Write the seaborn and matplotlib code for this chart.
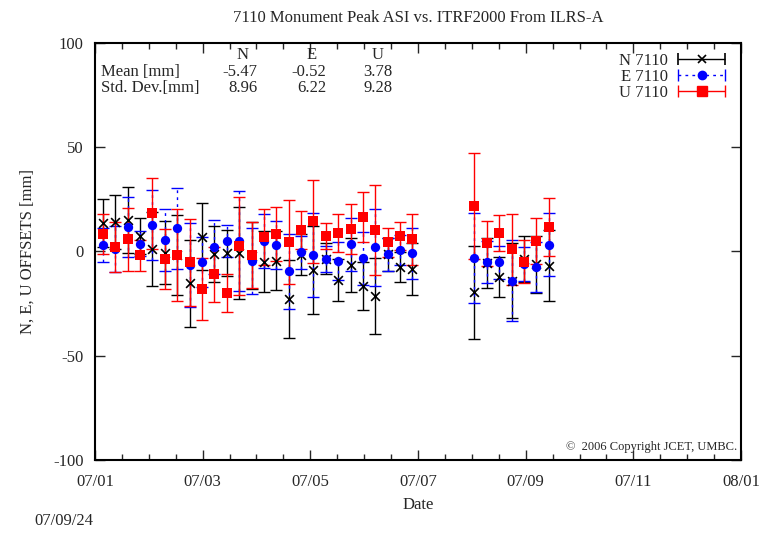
import numpy as np
import pandas as pd
import matplotlib
matplotlib.use("Agg")
import matplotlib.pyplot as plt
from matplotlib.ticker import FixedLocator
from matplotlib.container import ErrorbarContainer
from matplotlib.legend_handler import HandlerErrorbar
import seaborn as sns

# weekly solutions, 2007
dates = (list(pd.date_range("2007-01-05", periods=26, freq="7D").strftime("%Y-%m-%d"))
         + list(pd.date_range("2007-08-03", periods=7, freq="7D").strftime("%Y-%m-%d")))

n_val = [13.5, 14.3, 15.1, 7.6, 1.2, -0.6, -1.7, -15.3, 7.1, -1.3, -0.9, -0.9, -2.0,
         -4.9, -4.4, -22.8, -1.5, -8.9, -3.5, -13.7, -6.5, -16.5, -21.2, -1.3, -7.3, -8.5,
         -19.6, -5.7, -12.4, -14.0, -3.5, -6.1, -6.8]
n_err = [11.5, 13.0, 16.0, 8.6, 17.6, 15.0, 19.0, 21.0, 16.0, 13.5, 11.0, 22.0, 16.0,
         14.7, 14.0, 18.5, 10.0, 21.0, 7.5, 10.0, 12.8, 11.5, 18.3, 8.0, 7.2, 12.4,
         22.3, 12.0, 9.6, 18.0, 11.0, 13.6, 17.0]
e_val = [3.1, 1.2, 11.9, 3.8, 12.7, 5.5, 11.1, -6.5, -5.2, 2.0, 5.0, 5.0, -4.6,
         5.2, 3.0, -9.5, -0.4, -1.7, -3.6, -4.6, 3.4, -3.3, 2.0, -1.3, 0.7, -0.9,
         -3.3, -5.2, -5.2, -14.0, -6.0, -7.6, 3.3]
e_err = [8.0, 11.0, 14.4, 6.0, 16.8, 15.0, 19.5, 20.0, 12.0, 13.0, 7.7, 24.0, 16.0,
         13.0, 11.6, 18.0, 8.0, 20.0, 6.0, 9.0, 12.8, 12.8, 18.6, 8.0, 7.0, 12.4,
         21.6, 10.0, 7.9, 19.5, 8.0, 12.0, 15.0]
u_val = [8.2, 2.3, 5.8, -1.8, 18.3, -3.6, -1.7, -5.2, -18.0, -11.0, -20.0, 2.6, -1.7,
         6.8, 8.4, 4.6, 10.3, 14.5, 7.4, 8.9, 10.8, 16.4, 10.2, 4.4, 7.4, 5.8,
         21.8, 3.9, 8.7, 1.0, -4.9, 5.0, 11.6]
u_err = [9.6, 12.0, 15.0, 7.5, 17.0, 14.4, 22.0, 21.0, 15.0, 13.0, 9.0, 23.5, 16.0,
         13.5, 12.8, 20.0, 9.0, 20.0, 6.4, 9.0, 11.8, 12.0, 21.5, 7.0, 6.6, 12.2,
         25.6, 10.9, 8.6, 17.0, 10.4, 10.9, 14.0]

x_tick_labels = ["07/01", "07/03", "07/05", "07/07", "07/09", "07/11", "08/01"]
stat_cols = ["N", "E", "U"]
stat_mean = ["-5.47", "-0.52", "3.78"]
stat_std = ["8.96", "6.22", "9.28"]

# days since 2007-01-01
days = (pd.to_datetime(dates) - pd.Timestamp("2007-01-01")).days.to_numpy() + 0.5
df = pd.DataFrame({"day": days, "N": n_val, "E": e_val, "U": u_val})

sns.set_style("ticks")
plt.rcParams["font.family"] = ["Liberation Serif", "DejaVu Serif"]
plt.rcParams["axes.unicode_minus"] = False

fig = plt.figure(figsize=(7.74, 5.34), dpi=100)
ax = fig.add_axes([0.1227, 0.1386, 0.8347, 0.7809])

dash = (0, (2, 3))

# error bars
ax.errorbar(df["day"], df["N"], yerr=n_err, fmt="none", ecolor="black",
            elinewidth=1.0, capsize=4, capthick=1.0, zorder=2)
eb = ax.errorbar(df["day"], df["E"], yerr=e_err, fmt="none", ecolor="blue",
                 elinewidth=1.0, capsize=4, capthick=1.0, zorder=3)
eb[2][0].set_linestyle(dash)
ax.errorbar(df["day"], df["U"], yerr=u_err, fmt="none", ecolor="red",
            elinewidth=1.0, capsize=4, capthick=1.0, zorder=4)

# markers
sns.scatterplot(data=df, x="day", y="N", marker="x", color="black", s=40,
                linewidth=1.2, ax=ax, zorder=5)
sns.scatterplot(data=df, x="day", y="E", marker="o", color="blue", s=45,
                edgecolor="blue", linewidth=0, ax=ax, zorder=6)
sns.scatterplot(data=df, x="day", y="U", marker="s", color="red", s=60,
                edgecolor="red", linewidth=0, ax=ax, zorder=7)

# legend entries: horizontal bar with end caps and the marker in the middle
leg_n = ax.errorbar([np.nan], [np.nan], xerr=[1], fmt="x", color="black", ms=6,
                    mew=1.2, elinewidth=1, capsize=4)
leg_e = ax.errorbar([np.nan], [np.nan], xerr=[1], fmt="o", color="blue", ms=6,
                    elinewidth=1, capsize=4)
leg_e[2][0].set_linestyle(dash)
leg_u = ax.errorbar([np.nan], [np.nan], xerr=[1], fmt="s", color="red", ms=7,
                    elinewidth=1, capsize=4)

# axes
ax.set_xlim(0, 365.25)
ax.set_ylim(-100, 100)
ax.set_xticks(np.arange(7) * 365.25 / 6)
ax.set_xticklabels(x_tick_labels)
ax.xaxis.set_minor_locator(FixedLocator(np.arange(25) * 365.25 / 24))
ax.set_yticks([-100, -50, 0, 50, 100])
ax.tick_params(axis="both", which="major", direction="in", length=7, width=1,
               top=True, right=True, labelsize=12)
ax.tick_params(axis="x", which="major", pad=10)
ax.tick_params(axis="y", which="major", pad=8)
ax.tick_params(axis="x", which="minor", direction="in", length=4, width=1,
               top=True, bottom=True)
for s in ax.spines.values():
    s.set_linewidth(1.5)
    s.set_color("black")

ax.set_xlabel("Date", fontsize=12)
ax.set_ylabel("N, E, U OFFSETS [mm]", fontsize=12)
ax.xaxis.set_label_coords(0.5, -0.088)
ax.yaxis.set_label_coords(-0.092, 0.5)
ax.set_title("7110 Monument Peak ASI vs. ITRF2000 From ILRS-A", fontsize=12, pad=15)

# statistics table
col_x = [0.229, 0.336, 0.438]
for cx, c, m, sd in zip(col_x, stat_cols, stat_mean, stat_std):
    ax.text(cx, 0.971, c, transform=ax.transAxes, ha="center", va="center", fontsize=12)
    ax.text(cx + 0.022, 0.930, m, transform=ax.transAxes, ha="right", va="center", fontsize=12)
    ax.text(cx + 0.022, 0.892, sd, transform=ax.transAxes, ha="right", va="center", fontsize=12)
ax.text(0.009, 0.930, "Mean [mm]", transform=ax.transAxes, ha="left", va="center", fontsize=12)
ax.text(0.009, 0.892, "Std. Dev.[mm]", transform=ax.transAxes, ha="left", va="center", fontsize=12)

ax.legend([leg_n, leg_e, leg_u], ["N 7110", "E 7110", "U 7110"], loc="upper right",
          bbox_to_anchor=(0.992, 1.0),
          handler_map={ErrorbarContainer: HandlerErrorbar(xerr_size=1.42)},
          frameon=False, markerfirst=False, fontsize=12, handlelength=2.9,
          labelspacing=0.0, borderaxespad=0.2, handletextpad=0.6)

ax.text(0.994, 0.031, "\u00a9  2006 Copyright JCET, UMBC.", transform=ax.transAxes,
        ha="right", va="center", fontsize=9)
fig.text(0.045, 0.024, "07/09/24", ha="left", va="center", fontsize=12)

fig.savefig("out.png", dpi=100)
